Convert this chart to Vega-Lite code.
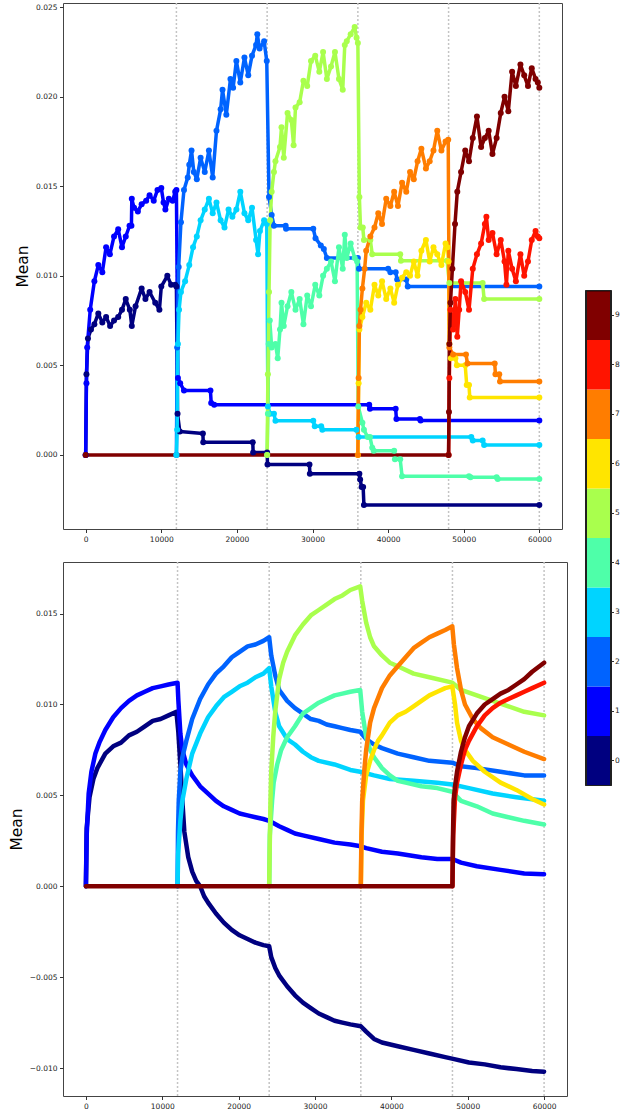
{
  "$schema": "https://vega.github.io/schema/vega-lite/v6.json",
  "padding": {"left": 8, "top": 1, "right": 0, "bottom": 0},
  "background": "white",
  "config": {
    "font": "DejaVu Sans",
    "view": {"stroke": "#444", "strokeWidth": 1},
    "axis": {"labelFont": "DejaVu Sans", "labelFontSize": 7.5, "labelColor": "#222", "tickColor": "#333", "tickSize": 3.5, "labelPadding": 2.5, "grid": false, "domain": false, "titleFont": "DejaVu Sans", "titleFontWeight": "normal", "titleFontSize": 15.5, "titleColor": "#000", "titlePadding": 5}
  },
  "datasets": {
    "vlines": [{"s": 12000}, {"s": 24000}, {"s": 36000}, {"s": 48000}, {"s": 60000}],
    "cbar": [{"c": 0}, {"c": 1}, {"c": 2}, {"c": 3}, {"c": 4}, {"c": 5}, {"c": 6}, {"c": 7}, {"c": 8}, {"c": 9}],
    "top": [
      {"c":0,"s":0,"m":0},{"c":0,"s":100,"m":0.0045},{"c":0,"s":300,"m":0.0065},{"c":0,"s":700,"m":0.007},{"c":0,"s":1150,"m":0.0073},{"c":0,"s":1670,"m":0.0079},{"c":0,"s":2200,"m":0.0074},{"c":0,"s":2700,"m":0.0077},{"c":0,"s":3230,"m":0.0072},{"c":0,"s":3750,"m":0.0075},{"c":0,"s":4300,"m":0.0077},{"c":0,"s":4800,"m":0.0081},{"c":0,"s":5300,"m":0.0087},{"c":0,"s":5840,"m":0.0081},{"c":0,"s":6100,"m":0.0072},{"c":0,"s":6600,"m":0.0083},{"c":0,"s":7400,"m":0.0093},{"c":0,"s":7900,"m":0.0087},{"c":0,"s":8450,"m":0.0091},{"c":0,"s":9200,"m":0.0085},{"c":0,"s":9750,"m":0.0081},{"c":0,"s":10000,"m":0.0094},{"c":0,"s":10800,"m":0.01},{"c":0,"s":11300,"m":0.0095},{"c":0,"s":11840,"m":0.0095},{"c":0,"s":12000,"m":0.0094},{"c":0,"s":12150,"m":0.0023},{"c":0,"s":12450,"m":0.0013},{"c":0,"s":15500,"m":0.0012},{"c":0,"s":15550,"m":0.0007},{"c":0,"s":22100,"m":0.0007},{"c":0,"s":22150,"m":0.00013},{"c":0,"s":24000,"m":0.00013},{"c":0,"s":24050,"m":-0.00054},{"c":0,"s":29600,"m":-0.00054},{"c":0,"s":29650,"m":-0.00106},{"c":0,"s":36200,"m":-0.00106},{"c":0,"s":36300,"m":-0.00137},{"c":0,"s":36500,"m":-0.0018},{"c":0,"s":36700,"m":-0.0018},{"c":0,"s":36800,"m":-0.0028},{"c":0,"s":60000,"m":-0.0028},
      {"c":1,"s":0,"m":0},{"c":1,"s":100,"m":0.004},{"c":1,"s":200,"m":0.006},{"c":1,"s":600,"m":0.0081},{"c":1,"s":1150,"m":0.0097},{"c":1,"s":1670,"m":0.0106},{"c":1,"s":2200,"m":0.0102},{"c":1,"s":2700,"m":0.0116},{"c":1,"s":3200,"m":0.0112},{"c":1,"s":3750,"m":0.0122},{"c":1,"s":4300,"m":0.0126},{"c":1,"s":4800,"m":0.0116},{"c":1,"s":5300,"m":0.0122},{"c":1,"s":5800,"m":0.0128},{"c":1,"s":6050,"m":0.0128},{"c":1,"s":6100,"m":0.0143},{"c":1,"s":6400,"m":0.0138},{"c":1,"s":6900,"m":0.0136},{"c":1,"s":7400,"m":0.014},{"c":1,"s":8000,"m":0.0142},{"c":1,"s":8450,"m":0.0145},{"c":1,"s":9000,"m":0.0142},{"c":1,"s":9500,"m":0.0148},{"c":1,"s":10000,"m":0.0149},{"c":1,"s":10300,"m":0.0141},{"c":1,"s":10540,"m":0.0137},{"c":1,"s":11000,"m":0.0143},{"c":1,"s":11500,"m":0.0142},{"c":1,"s":11840,"m":0.0147},{"c":1,"s":12000,"m":0.0148},{"c":1,"s":12200,"m":0.0043},{"c":1,"s":12500,"m":0.004},{"c":1,"s":13000,"m":0.0036},{"c":1,"s":16500,"m":0.0036},{"c":1,"s":16600,"m":0.0029},{"c":1,"s":17000,"m":0.0028},{"c":1,"s":37500,"m":0.0028},{"c":1,"s":37600,"m":0.00258},{"c":1,"s":41000,"m":0.00258},{"c":1,"s":41100,"m":0.002},{"c":1,"s":44200,"m":0.002},{"c":1,"s":44300,"m":0.00192},{"c":1,"s":60000,"m":0.00192},
      {"c":2,"s":12000,"m":0},{"c":2,"s":12100,"m":0.006},{"c":2,"s":12300,"m":0.0105},{"c":2,"s":12600,"m":0.013},{"c":2,"s":13000,"m":0.0148},{"c":2,"s":13500,"m":0.0155},{"c":2,"s":13700,"m":0.0162},{"c":2,"s":14000,"m":0.017},{"c":2,"s":14300,"m":0.0158},{"c":2,"s":14700,"m":0.0154},{"c":2,"s":15200,"m":0.0166},{"c":2,"s":15750,"m":0.0158},{"c":2,"s":16300,"m":0.017},{"c":2,"s":16800,"m":0.0155},{"c":2,"s":17300,"m":0.0181},{"c":2,"s":17850,"m":0.0193},{"c":2,"s":18100,"m":0.0204},{"c":2,"s":18600,"m":0.019},{"c":2,"s":19150,"m":0.021},{"c":2,"s":19500,"m":0.0205},{"c":2,"s":19930,"m":0.022},{"c":2,"s":20450,"m":0.0208},{"c":2,"s":21000,"m":0.0222},{"c":2,"s":21500,"m":0.0212},{"c":2,"s":22000,"m":0.0223},{"c":2,"s":22540,"m":0.0229},{"c":2,"s":22700,"m":0.0235},{"c":2,"s":23000,"m":0.0227},{"c":2,"s":23600,"m":0.0231},{"c":2,"s":23950,"m":0.022},{"c":2,"s":24250,"m":0.0144},{"c":2,"s":24600,"m":0.0134},{"c":2,"s":24900,"m":0.0128},{"c":2,"s":26450,"m":0.0128},{"c":2,"s":26500,"m":0.01263},{"c":2,"s":30100,"m":0.01263},{"c":2,"s":30400,"m":0.0121},{"c":2,"s":31100,"m":0.0117},{"c":2,"s":31500,"m":0.0115},{"c":2,"s":31900,"m":0.011},{"c":2,"s":36000,"m":0.011},{"c":2,"s":36150,"m":0.0104},{"c":2,"s":40000,"m":0.0104},{"c":2,"s":40300,"m":0.0102},{"c":2,"s":41000,"m":0.0102},{"c":2,"s":41200,"m":0.0098},{"c":2,"s":42400,"m":0.0098},{"c":2,"s":42600,"m":0.0094},{"c":2,"s":60000,"m":0.0094},
      {"c":3,"s":12000,"m":0},{"c":3,"s":12100,"m":0.0014},{"c":3,"s":12200,"m":0.0062},{"c":3,"s":12350,"m":0.0081},{"c":3,"s":12600,"m":0.0091},{"c":3,"s":13150,"m":0.0097},{"c":3,"s":13700,"m":0.0106},{"c":3,"s":14200,"m":0.0116},{"c":3,"s":14700,"m":0.0122},{"c":3,"s":15200,"m":0.0131},{"c":3,"s":15750,"m":0.0137},{"c":3,"s":16300,"m":0.0143},{"c":3,"s":16800,"m":0.0135},{"c":3,"s":17300,"m":0.0141},{"c":3,"s":17850,"m":0.0131},{"c":3,"s":18360,"m":0.0127},{"c":3,"s":18900,"m":0.0137},{"c":3,"s":19400,"m":0.0133},{"c":3,"s":19930,"m":0.0137},{"c":3,"s":20450,"m":0.0147},{"c":3,"s":21000,"m":0.0135},{"c":3,"s":21500,"m":0.0131},{"c":3,"s":22000,"m":0.0138},{"c":3,"s":22540,"m":0.012},{"c":3,"s":22800,"m":0.0112},{"c":3,"s":23050,"m":0.0125},{"c":3,"s":23600,"m":0.0131},{"c":3,"s":23950,"m":0.0129},{"c":3,"s":24100,"m":0.0027},{"c":3,"s":24400,"m":0.0023},{"c":3,"s":24900,"m":0.0023},{"c":3,"s":25100,"m":0.0019},{"c":3,"s":30100,"m":0.0019},{"c":3,"s":30300,"m":0.0016},{"c":3,"s":31150,"m":0.0016},{"c":3,"s":31300,"m":0.0014},{"c":3,"s":35800,"m":0.0014},{"c":3,"s":36100,"m":0.001},{"c":3,"s":51000,"m":0.001},{"c":3,"s":51200,"m":0.0008},{"c":3,"s":52500,"m":0.0008},{"c":3,"s":52700,"m":0.00055},{"c":3,"s":60000,"m":0.00055},
      {"c":4,"s":24000,"m":0},{"c":4,"s":24100,"m":0.0023},{"c":4,"s":24200,"m":0.0062},{"c":4,"s":24350,"m":0.0075},{"c":4,"s":24600,"m":0.006},{"c":4,"s":25100,"m":0.0062},{"c":4,"s":25400,"m":0.0054},{"c":4,"s":25700,"m":0.007},{"c":4,"s":25900,"m":0.0085},{"c":4,"s":26200,"m":0.0072},{"c":4,"s":26700,"m":0.0083},{"c":4,"s":27200,"m":0.0091},{"c":4,"s":27750,"m":0.0081},{"c":4,"s":28300,"m":0.0087},{"c":4,"s":28800,"m":0.0073},{"c":4,"s":29300,"m":0.0089},{"c":4,"s":29800,"m":0.0083},{"c":4,"s":30360,"m":0.0095},{"c":4,"s":30900,"m":0.0089},{"c":4,"s":31400,"m":0.01},{"c":4,"s":31900,"m":0.0104},{"c":4,"s":32450,"m":0.0108},{"c":4,"s":32970,"m":0.0097},{"c":4,"s":33500,"m":0.0116},{"c":4,"s":34000,"m":0.0104},{"c":4,"s":34270,"m":0.0123},{"c":4,"s":34530,"m":0.011},{"c":4,"s":35050,"m":0.0118},{"c":4,"s":35580,"m":0.011},{"c":4,"s":35900,"m":0.0108},{"c":4,"s":36050,"m":0.0027},{"c":4,"s":36600,"m":0.0018},{"c":4,"s":36800,"m":0.0014},{"c":4,"s":37300,"m":0.001},{"c":4,"s":37600,"m":0.001},{"c":4,"s":37900,"m":0.0004},{"c":4,"s":38100,"m":0.00023},{"c":4,"s":40800,"m":0.00023},{"c":4,"s":40900,"m":-0.00025},{"c":4,"s":41600,"m":-0.00025},{"c":4,"s":41850,"m":-0.0012},{"c":4,"s":50700,"m":-0.0012},{"c":4,"s":50900,"m":-0.00125},{"c":4,"s":54350,"m":-0.00125},{"c":4,"s":54500,"m":-0.00135},{"c":4,"s":60000,"m":-0.00135},
      {"c":5,"s":24000,"m":0},{"c":5,"s":24100,"m":0.0045},{"c":5,"s":24250,"m":0.0091},{"c":5,"s":24400,"m":0.0131},{"c":5,"s":24600,"m":0.0147},{"c":5,"s":24900,"m":0.0158},{"c":5,"s":25100,"m":0.0164},{"c":5,"s":25700,"m":0.0172},{"c":5,"s":25900,"m":0.0183},{"c":5,"s":26200,"m":0.0166},{"c":5,"s":26700,"m":0.0191},{"c":5,"s":27200,"m":0.0187},{"c":5,"s":27500,"m":0.0173},{"c":5,"s":27750,"m":0.0194},{"c":5,"s":28300,"m":0.0197},{"c":5,"s":28800,"m":0.0209},{"c":5,"s":29300,"m":0.0206},{"c":5,"s":29800,"m":0.022},{"c":5,"s":30360,"m":0.0223},{"c":5,"s":30900,"m":0.0214},{"c":5,"s":31400,"m":0.0225},{"c":5,"s":31900,"m":0.021},{"c":5,"s":32450,"m":0.0217},{"c":5,"s":32970,"m":0.0225},{"c":5,"s":33500,"m":0.021},{"c":5,"s":34000,"m":0.0204},{"c":5,"s":34270,"m":0.0229},{"c":5,"s":34530,"m":0.0231},{"c":5,"s":35050,"m":0.0235},{"c":5,"s":35580,"m":0.0239},{"c":5,"s":35830,"m":0.0233},{"c":5,"s":36000,"m":0.023},{"c":5,"s":36200,"m":0.0144},{"c":5,"s":36350,"m":0.0127},{"c":5,"s":36650,"m":0.0127},{"c":5,"s":36800,"m":0.012},{"c":5,"s":37650,"m":0.012},{"c":5,"s":37900,"m":0.0112},{"c":5,"s":41600,"m":0.0112},{"c":5,"s":41700,"m":0.01085},{"c":5,"s":47800,"m":0.01085},{"c":5,"s":48100,"m":0.0096},{"c":5,"s":52500,"m":0.0096},{"c":5,"s":52700,"m":0.0087},{"c":5,"s":60000,"m":0.0087},
      {"c":6,"s":36000,"m":0},{"c":6,"s":36100,"m":0.004},{"c":6,"s":36200,"m":0.007},{"c":6,"s":36600,"m":0.0077},{"c":6,"s":37100,"m":0.0085},{"c":6,"s":37650,"m":0.0081},{"c":6,"s":38200,"m":0.0095},{"c":6,"s":38700,"m":0.0089},{"c":6,"s":39200,"m":0.0097},{"c":6,"s":39750,"m":0.0087},{"c":6,"s":40300,"m":0.0093},{"c":6,"s":40800,"m":0.0085},{"c":6,"s":41300,"m":0.0095},{"c":6,"s":41850,"m":0.0099},{"c":6,"s":42400,"m":0.0102},{"c":6,"s":42900,"m":0.01},{"c":6,"s":43400,"m":0.0108},{"c":6,"s":43900,"m":0.01},{"c":6,"s":44400,"m":0.0114},{"c":6,"s":45000,"m":0.012},{"c":6,"s":45500,"m":0.0108},{"c":6,"s":46000,"m":0.0116},{"c":6,"s":46500,"m":0.0112},{"c":6,"s":47050,"m":0.0106},{"c":6,"s":47600,"m":0.0118},{"c":6,"s":47850,"m":0.0116},{"c":6,"s":48000,"m":0.0108},{"c":6,"s":48100,"m":0.0062},{"c":6,"s":48300,"m":0.0054},{"c":6,"s":48900,"m":0.0054},{"c":6,"s":49100,"m":0.005},{"c":6,"s":50200,"m":0.005},{"c":6,"s":50400,"m":0.0039},{"c":6,"s":50700,"m":0.0039},{"c":6,"s":50800,"m":0.0032},{"c":6,"s":60000,"m":0.0032},
      {"c":7,"s":36000,"m":0},{"c":7,"s":36100,"m":0.0043},{"c":7,"s":36200,"m":0.0072},{"c":7,"s":36350,"m":0.0081},{"c":7,"s":36600,"m":0.0093},{"c":7,"s":36900,"m":0.0104},{"c":7,"s":37100,"m":0.0114},{"c":7,"s":37650,"m":0.0122},{"c":7,"s":38200,"m":0.0127},{"c":7,"s":38700,"m":0.0135},{"c":7,"s":39200,"m":0.0129},{"c":7,"s":39750,"m":0.0143},{"c":7,"s":40300,"m":0.0139},{"c":7,"s":40800,"m":0.0147},{"c":7,"s":41300,"m":0.0139},{"c":7,"s":41850,"m":0.0152},{"c":7,"s":42400,"m":0.0147},{"c":7,"s":42900,"m":0.0158},{"c":7,"s":43400,"m":0.0154},{"c":7,"s":43900,"m":0.0164},{"c":7,"s":44400,"m":0.0171},{"c":7,"s":45000,"m":0.016},{"c":7,"s":45500,"m":0.0164},{"c":7,"s":46000,"m":0.017},{"c":7,"s":46500,"m":0.0181},{"c":7,"s":47050,"m":0.017},{"c":7,"s":47600,"m":0.0175},{"c":7,"s":47950,"m":0.0176},{"c":7,"s":48100,"m":0.006},{"c":7,"s":48600,"m":0.0056},{"c":7,"s":50300,"m":0.0056},{"c":7,"s":50500,"m":0.0051},{"c":7,"s":54100,"m":0.0051},{"c":7,"s":54200,"m":0.0045},{"c":7,"s":54700,"m":0.0045},{"c":7,"s":54800,"m":0.0041},{"c":7,"s":60000,"m":0.0041},
      {"c":8,"s":48000,"m":0},{"c":8,"s":48100,"m":0.0043},{"c":8,"s":48250,"m":0.0081},{"c":8,"s":48600,"m":0.007},{"c":8,"s":48900,"m":0.0087},{"c":8,"s":49150,"m":0.0066},{"c":8,"s":49400,"m":0.0081},{"c":8,"s":49650,"m":0.0097},{"c":8,"s":50200,"m":0.0091},{"c":8,"s":50700,"m":0.0081},{"c":8,"s":51200,"m":0.0104},{"c":8,"s":51750,"m":0.0112},{"c":8,"s":52300,"m":0.0118},{"c":8,"s":52800,"m":0.0129},{"c":8,"s":53000,"m":0.0133},{"c":8,"s":53300,"m":0.012},{"c":8,"s":53800,"m":0.0124},{"c":8,"s":54350,"m":0.0112},{"c":8,"s":54900,"m":0.012},{"c":8,"s":55400,"m":0.0108},{"c":8,"s":55650,"m":0.0095},{"c":8,"s":55900,"m":0.0114},{"c":8,"s":56400,"m":0.0104},{"c":8,"s":56900,"m":0.0097},{"c":8,"s":57500,"m":0.0112},{"c":8,"s":58000,"m":0.01},{"c":8,"s":58500,"m":0.0108},{"c":8,"s":59000,"m":0.012},{"c":8,"s":59500,"m":0.0125},{"c":8,"s":59800,"m":0.0122},{"c":8,"s":60000,"m":0.0121},
      {"c":9,"s":0,"m":0},{"c":9,"s":48000,"m":0},{"c":9,"s":48050,"m":0.0024},{"c":9,"s":48100,"m":0.0062},{"c":9,"s":48250,"m":0.0085},{"c":9,"s":48500,"m":0.0104},{"c":9,"s":48850,"m":0.0129},{"c":9,"s":49150,"m":0.0147},{"c":9,"s":49650,"m":0.0158},{"c":9,"s":50200,"m":0.017},{"c":9,"s":50700,"m":0.0164},{"c":9,"s":51200,"m":0.0177},{"c":9,"s":51750,"m":0.0189},{"c":9,"s":52300,"m":0.0172},{"c":9,"s":52800,"m":0.0177},{"c":9,"s":53300,"m":0.0181},{"c":9,"s":53800,"m":0.0168},{"c":9,"s":54350,"m":0.0177},{"c":9,"s":54900,"m":0.0191},{"c":9,"s":55400,"m":0.02},{"c":9,"s":55900,"m":0.0192},{"c":9,"s":56400,"m":0.0214},{"c":9,"s":56900,"m":0.0206},{"c":9,"s":57500,"m":0.0218},{"c":9,"s":58000,"m":0.0212},{"c":9,"s":58500,"m":0.0206},{"c":9,"s":59000,"m":0.0216},{"c":9,"s":59500,"m":0.021},{"c":9,"s":59800,"m":0.0208},{"c":9,"s":60000,"m":0.0205}
    ],
    "bottom": [
      {"c":0,"s":0,"m":0},{"c":0,"s":100,"m":0.0032},{"c":0,"s":470,"m":0.0049},{"c":0,"s":980,"m":0.0059},{"c":0,"s":1500,"m":0.0065},{"c":0,"s":2540,"m":0.0073},{"c":0,"s":3570,"m":0.0077},{"c":0,"s":4600,"m":0.0079},{"c":0,"s":5640,"m":0.0083},{"c":0,"s":6680,"m":0.0085},{"c":0,"s":7710,"m":0.0088},{"c":0,"s":8750,"m":0.0091},{"c":0,"s":9780,"m":0.0092},{"c":0,"s":10820,"m":0.0094},{"c":0,"s":11850,"m":0.0096},{"c":0,"s":12100,"m":0.0085},{"c":0,"s":12370,"m":0.0067},{"c":0,"s":12630,"m":0.0047},{"c":0,"s":12890,"m":0.003},{"c":0,"s":13400,"m":0.0016},{"c":0,"s":13920,"m":0.0008},{"c":0,"s":14440,"m":0.0003},{"c":0,"s":14960,"m":0},{"c":0,"s":15480,"m":-0.00055},{"c":0,"s":16000,"m":-0.0009},{"c":0,"s":17030,"m":-0.0015},{"c":0,"s":18060,"m":-0.002},{"c":0,"s":19100,"m":-0.0024},{"c":0,"s":20130,"m":-0.0027},{"c":0,"s":21170,"m":-0.0029},{"c":0,"s":22200,"m":-0.0031},{"c":0,"s":23240,"m":-0.00324},{"c":0,"s":24000,"m":-0.0033},{"c":0,"s":24270,"m":-0.0039},{"c":0,"s":24800,"m":-0.0045},{"c":0,"s":25300,"m":-0.0049},{"c":0,"s":26350,"m":-0.0055},{"c":0,"s":27380,"m":-0.006},{"c":0,"s":28420,"m":-0.0064},{"c":0,"s":29450,"m":-0.0067},{"c":0,"s":30490,"m":-0.007},{"c":0,"s":31520,"m":-0.0072},{"c":0,"s":32560,"m":-0.0074},{"c":0,"s":33590,"m":-0.0075},{"c":0,"s":34630,"m":-0.0076},{"c":0,"s":36000,"m":-0.0077},{"c":0,"s":36700,"m":-0.008},{"c":0,"s":37730,"m":-0.0084},{"c":0,"s":38770,"m":-0.0086},{"c":0,"s":40840,"m":-0.0088},{"c":0,"s":42910,"m":-0.009},{"c":0,"s":44980,"m":-0.0092},{"c":0,"s":47050,"m":-0.0094},{"c":0,"s":48090,"m":-0.0095},{"c":0,"s":50160,"m":-0.0097},{"c":0,"s":52230,"m":-0.0098},{"c":0,"s":54300,"m":-0.00996},{"c":0,"s":56370,"m":-0.01006},{"c":0,"s":58440,"m":-0.01016},{"c":0,"s":60000,"m":-0.0102},
      {"c":1,"s":0,"m":0},{"c":1,"s":100,"m":0.0028},{"c":1,"s":360,"m":0.0051},{"c":1,"s":720,"m":0.0063},{"c":1,"s":1240,"m":0.0073},{"c":1,"s":1760,"m":0.0079},{"c":1,"s":2540,"m":0.0086},{"c":1,"s":3570,"m":0.0093},{"c":1,"s":4600,"m":0.0098},{"c":1,"s":5640,"m":0.0102},{"c":1,"s":6680,"m":0.0105},{"c":1,"s":7710,"m":0.0107},{"c":1,"s":8750,"m":0.0109},{"c":1,"s":9780,"m":0.011},{"c":1,"s":10820,"m":0.0111},{"c":1,"s":12000,"m":0.0112},{"c":1,"s":12110,"m":0.0102},{"c":1,"s":12370,"m":0.0084},{"c":1,"s":12630,"m":0.0075},{"c":1,"s":13150,"m":0.0067},{"c":1,"s":13920,"m":0.0061},{"c":1,"s":14960,"m":0.0055},{"c":1,"s":16000,"m":0.0051},{"c":1,"s":17030,"m":0.0047},{"c":1,"s":18060,"m":0.0044},{"c":1,"s":19100,"m":0.0042},{"c":1,"s":20130,"m":0.004},{"c":1,"s":21170,"m":0.0039},{"c":1,"s":22200,"m":0.0038},{"c":1,"s":23240,"m":0.0037},{"c":1,"s":24000,"m":0.0036},{"c":1,"s":25310,"m":0.0033},{"c":1,"s":26350,"m":0.0031},{"c":1,"s":27380,"m":0.0029},{"c":1,"s":28420,"m":0.0028},{"c":1,"s":30490,"m":0.0026},{"c":1,"s":32560,"m":0.0024},{"c":1,"s":34630,"m":0.0023},{"c":1,"s":36000,"m":0.0022},{"c":1,"s":36700,"m":0.0021},{"c":1,"s":38770,"m":0.0019},{"c":1,"s":40840,"m":0.0018},{"c":1,"s":43940,"m":0.0016},{"c":1,"s":46010,"m":0.0015},{"c":1,"s":48000,"m":0.0015},{"c":1,"s":49120,"m":0.0013},{"c":1,"s":51190,"m":0.0011},{"c":1,"s":54300,"m":0.0009},{"c":1,"s":57400,"m":0.0007},{"c":1,"s":60000,"m":0.00066},
      {"c":2,"s":12000,"m":0},{"c":2,"s":12060,"m":0.003},{"c":2,"s":12160,"m":0.0047},{"c":2,"s":12370,"m":0.0063},{"c":2,"s":12630,"m":0.0071},{"c":2,"s":13150,"m":0.008},{"c":2,"s":13920,"m":0.0092},{"c":2,"s":14960,"m":0.0103},{"c":2,"s":16000,"m":0.0111},{"c":2,"s":17030,"m":0.0117},{"c":2,"s":18060,"m":0.0121},{"c":2,"s":19100,"m":0.0126},{"c":2,"s":20130,"m":0.0129},{"c":2,"s":21170,"m":0.0132},{"c":2,"s":22200,"m":0.0133},{"c":2,"s":23240,"m":0.0135},{"c":2,"s":24000,"m":0.0137},{"c":2,"s":24270,"m":0.0127},{"c":2,"s":24790,"m":0.0116},{"c":2,"s":25310,"m":0.0108},{"c":2,"s":26350,"m":0.0102},{"c":2,"s":27380,"m":0.0098},{"c":2,"s":28420,"m":0.0095},{"c":2,"s":29450,"m":0.0092},{"c":2,"s":30490,"m":0.0091},{"c":2,"s":31520,"m":0.0089},{"c":2,"s":32560,"m":0.0088},{"c":2,"s":33590,"m":0.0087},{"c":2,"s":34630,"m":0.0086},{"c":2,"s":35920,"m":0.0085},{"c":2,"s":36700,"m":0.0081},{"c":2,"s":37730,"m":0.0078},{"c":2,"s":38770,"m":0.0076},{"c":2,"s":40840,"m":0.0073},{"c":2,"s":42910,"m":0.0071},{"c":2,"s":44980,"m":0.0069},{"c":2,"s":47980,"m":0.0068},{"c":2,"s":49120,"m":0.0066},{"c":2,"s":51190,"m":0.0065},{"c":2,"s":54300,"m":0.0063},{"c":2,"s":57400,"m":0.0061},{"c":2,"s":60000,"m":0.0061},
      {"c":3,"s":12000,"m":0},{"c":3,"s":12080,"m":0.0018},{"c":3,"s":12370,"m":0.0036},{"c":3,"s":12630,"m":0.0047},{"c":3,"s":13150,"m":0.0059},{"c":3,"s":13920,"m":0.0073},{"c":3,"s":14960,"m":0.0084},{"c":3,"s":16000,"m":0.0093},{"c":3,"s":17030,"m":0.0099},{"c":3,"s":18060,"m":0.0104},{"c":3,"s":19100,"m":0.0107},{"c":3,"s":20130,"m":0.011},{"c":3,"s":21170,"m":0.0112},{"c":3,"s":22200,"m":0.0115},{"c":3,"s":23240,"m":0.0117},{"c":3,"s":24000,"m":0.012},{"c":3,"s":24270,"m":0.011},{"c":3,"s":24790,"m":0.0096},{"c":3,"s":25310,"m":0.0088},{"c":3,"s":26350,"m":0.0081},{"c":3,"s":27380,"m":0.0078},{"c":3,"s":28420,"m":0.0074},{"c":3,"s":29450,"m":0.0071},{"c":3,"s":30490,"m":0.0069},{"c":3,"s":32560,"m":0.0067},{"c":3,"s":34630,"m":0.0064},{"c":3,"s":35920,"m":0.0063},{"c":3,"s":37730,"m":0.0061},{"c":3,"s":39800,"m":0.0059},{"c":3,"s":42910,"m":0.0058},{"c":3,"s":46010,"m":0.0057},{"c":3,"s":47980,"m":0.0056},{"c":3,"s":50160,"m":0.0054},{"c":3,"s":53260,"m":0.0051},{"c":3,"s":56370,"m":0.0049},{"c":3,"s":60000,"m":0.0047},
      {"c":4,"s":24000,"m":0},{"c":4,"s":24080,"m":0.0028},{"c":4,"s":24380,"m":0.0047},{"c":4,"s":24590,"m":0.0057},{"c":4,"s":25050,"m":0.0067},{"c":4,"s":25570,"m":0.0075},{"c":4,"s":26350,"m":0.0082},{"c":4,"s":27380,"m":0.0088},{"c":4,"s":28420,"m":0.0095},{"c":4,"s":29450,"m":0.0098},{"c":4,"s":30490,"m":0.0101},{"c":4,"s":31520,"m":0.0103},{"c":4,"s":32560,"m":0.0105},{"c":4,"s":33590,"m":0.0106},{"c":4,"s":34630,"m":0.0107},{"c":4,"s":35920,"m":0.0108},{"c":4,"s":36180,"m":0.0096},{"c":4,"s":36700,"m":0.0082},{"c":4,"s":37220,"m":0.0075},{"c":4,"s":37730,"m":0.0071},{"c":4,"s":38770,"m":0.0065},{"c":4,"s":39800,"m":0.0061},{"c":4,"s":40840,"m":0.0058},{"c":4,"s":41870,"m":0.0057},{"c":4,"s":43940,"m":0.0055},{"c":4,"s":46010,"m":0.0054},{"c":4,"s":47980,"m":0.0052},{"c":4,"s":49120,"m":0.0047},{"c":4,"s":51190,"m":0.0044},{"c":4,"s":53260,"m":0.004},{"c":4,"s":55330,"m":0.0038},{"c":4,"s":57400,"m":0.0036},{"c":4,"s":60000,"m":0.0034},
      {"c":5,"s":24000,"m":0},{"c":5,"s":24050,"m":0.0016},{"c":5,"s":24170,"m":0.0047},{"c":5,"s":24270,"m":0.0063},{"c":5,"s":24530,"m":0.0082},{"c":5,"s":24790,"m":0.0096},{"c":5,"s":25310,"m":0.0114},{"c":5,"s":25830,"m":0.0123},{"c":5,"s":26350,"m":0.0129},{"c":5,"s":27380,"m":0.0138},{"c":5,"s":28420,"m":0.0144},{"c":5,"s":29450,"m":0.0149},{"c":5,"s":30490,"m":0.0152},{"c":5,"s":31520,"m":0.0155},{"c":5,"s":32560,"m":0.0158},{"c":5,"s":33590,"m":0.016},{"c":5,"s":34630,"m":0.0163},{"c":5,"s":35920,"m":0.0165},{"c":5,"s":36180,"m":0.0157},{"c":5,"s":36700,"m":0.0145},{"c":5,"s":37220,"m":0.0137},{"c":5,"s":37730,"m":0.0132},{"c":5,"s":38770,"m":0.0127},{"c":5,"s":39800,"m":0.0123},{"c":5,"s":40840,"m":0.0121},{"c":5,"s":42910,"m":0.0117},{"c":5,"s":44980,"m":0.0115},{"c":5,"s":47980,"m":0.0112},{"c":5,"s":49120,"m":0.0108},{"c":5,"s":51190,"m":0.0105},{"c":5,"s":53260,"m":0.0102},{"c":5,"s":55330,"m":0.0099},{"c":5,"s":57400,"m":0.0096},{"c":5,"s":60000,"m":0.0094},
      {"c":6,"s":36000,"m":0},{"c":6,"s":36100,"m":0.0028},{"c":6,"s":36280,"m":0.0047},{"c":6,"s":36700,"m":0.0061},{"c":6,"s":37220,"m":0.0069},{"c":6,"s":37730,"m":0.0075},{"c":6,"s":38250,"m":0.008},{"c":6,"s":38770,"m":0.0083},{"c":6,"s":39800,"m":0.009},{"c":6,"s":40840,"m":0.0094},{"c":6,"s":41870,"m":0.0096},{"c":6,"s":42910,"m":0.0099},{"c":6,"s":43940,"m":0.0102},{"c":6,"s":44980,"m":0.0105},{"c":6,"s":46010,"m":0.0107},{"c":6,"s":47050,"m":0.0109},{"c":6,"s":47980,"m":0.011},{"c":6,"s":48340,"m":0.01},{"c":6,"s":48600,"m":0.009},{"c":6,"s":49120,"m":0.008},{"c":6,"s":49640,"m":0.0075},{"c":6,"s":50670,"m":0.0069},{"c":6,"s":52230,"m":0.0063},{"c":6,"s":54300,"m":0.0057},{"c":6,"s":56370,"m":0.0053},{"c":6,"s":58440,"m":0.0048},{"c":6,"s":60000,"m":0.0045},
      {"c":7,"s":36000,"m":0},{"c":7,"s":36080,"m":0.0028},{"c":7,"s":36180,"m":0.0047},{"c":7,"s":36440,"m":0.0063},{"c":7,"s":36700,"m":0.0075},{"c":7,"s":37220,"m":0.009},{"c":7,"s":37730,"m":0.0098},{"c":7,"s":38770,"m":0.0109},{"c":7,"s":39800,"m":0.0116},{"c":7,"s":40840,"m":0.0121},{"c":7,"s":41870,"m":0.0126},{"c":7,"s":42910,"m":0.0131},{"c":7,"s":43940,"m":0.0134},{"c":7,"s":44980,"m":0.0137},{"c":7,"s":46010,"m":0.0139},{"c":7,"s":47050,"m":0.0141},{"c":7,"s":47980,"m":0.0143},{"c":7,"s":48190,"m":0.0133},{"c":7,"s":48600,"m":0.012},{"c":7,"s":49120,"m":0.0108},{"c":7,"s":49640,"m":0.01},{"c":7,"s":50670,"m":0.0092},{"c":7,"s":51710,"m":0.0087},{"c":7,"s":53260,"m":0.0082},{"c":7,"s":55330,"m":0.0078},{"c":7,"s":57400,"m":0.0074},{"c":7,"s":60000,"m":0.007},
      {"c":8,"s":48000,"m":0},{"c":8,"s":48100,"m":0.0028},{"c":8,"s":48340,"m":0.0049},{"c":8,"s":48600,"m":0.0057},{"c":8,"s":49120,"m":0.0067},{"c":8,"s":49640,"m":0.0075},{"c":8,"s":50160,"m":0.008},{"c":8,"s":51190,"m":0.0088},{"c":8,"s":52230,"m":0.0094},{"c":8,"s":53260,"m":0.0098},{"c":8,"s":54300,"m":0.0101},{"c":8,"s":55330,"m":0.0103},{"c":8,"s":56370,"m":0.0105},{"c":8,"s":57400,"m":0.0107},{"c":8,"s":58440,"m":0.0109},{"c":8,"s":60000,"m":0.0112},
      {"c":9,"s":0,"m":0},{"c":9,"s":48000,"m":0},{"c":9,"s":48060,"m":0.0025},{"c":9,"s":48150,"m":0.0047},{"c":9,"s":48340,"m":0.0055},{"c":9,"s":48600,"m":0.0063},{"c":9,"s":49120,"m":0.0074},{"c":9,"s":49640,"m":0.0082},{"c":9,"s":50160,"m":0.0088},{"c":9,"s":51190,"m":0.0095},{"c":9,"s":52230,"m":0.01},{"c":9,"s":53260,"m":0.0103},{"c":9,"s":54300,"m":0.0106},{"c":9,"s":55330,"m":0.0108},{"c":9,"s":56370,"m":0.0111},{"c":9,"s":57400,"m":0.0114},{"c":9,"s":58440,"m":0.0118},{"c":9,"s":60000,"m":0.0123}
    ]
  },
  "hconcat": [
    {
      "spacing": 17,
      "vconcat": [
        {
          "width": 499,
          "height": 526,
          "layer": [
            {
              "data": {"name": "vlines"},
              "mark": {"type": "rule", "color": "#c4c4c4", "strokeDash": [2, 2], "strokeWidth": 1.5},
              "encoding": {"x": {"field": "s", "type": "quantitative", "scale": {"domain": [-3000, 63000], "nice": false, "zero": false}, "axis": {"values": [0, 10000, 20000, 30000, 40000, 50000, 60000], "format": "d", "title": null}}}
            },
            {
              "data": {"name": "top"},
              "mark": {"type": "line", "strokeWidth": 3.5, "strokeJoin": "round", "point": {"filled": true, "size": 36, "opacity": 1}},
              "encoding": {
                "x": {"field": "s", "type": "quantitative", "scale": {"domain": [-3000, 63000], "nice": false, "zero": false}, "axis": {"values": [0, 10000, 20000, 30000, 40000, 50000, 60000], "format": "d", "title": null}},
                "y": {"field": "m", "type": "quantitative", "scale": {"domain": [-0.00414, 0.02524], "nice": false, "zero": false}, "axis": {"values": [0, 0.005, 0.01, 0.015, 0.02, 0.025], "format": ".3f", "title": "Mean"}},
                "color": {"field": "c", "type": "nominal", "scale": {"domain": [0,1,2,3,4,5,6,7,8,9], "range": ["#000080","#0000ff","#0063ff","#00d4ff","#4effa9","#a9ff4d","#ffe500","#ff7d00","#ff1400","#800000"]}, "legend": null}
              }
            }
          ]
        },
        {
          "width": 504,
          "height": 534,
          "layer": [
            {
              "data": {"name": "vlines"},
              "mark": {"type": "rule", "color": "#c4c4c4", "strokeDash": [2, 2], "strokeWidth": 1.5},
              "encoding": {"x": {"field": "s", "type": "quantitative", "scale": {"domain": [-3000, 63000], "nice": false, "zero": false}, "axis": {"values": [0, 10000, 20000, 30000, 40000, 50000, 60000], "format": "d", "title": null}}}
            },
            {
              "data": {"name": "bottom"},
              "mark": {"type": "line", "strokeWidth": 4.5, "strokeJoin": "round", "strokeCap": "round"},
              "encoding": {
                "x": {"field": "s", "type": "quantitative", "scale": {"domain": [-3000, 63000], "nice": false, "zero": false}, "axis": {"values": [0, 10000, 20000, 30000, 40000, 50000, 60000], "format": "d", "title": null}},
                "y": {"field": "m", "type": "quantitative", "scale": {"domain": [-0.01154, 0.01784], "nice": false, "zero": false}, "axis": {"values": [-0.01, -0.005, 0, 0.005, 0.01, 0.015], "format": ".3f", "title": "Mean"}},
                "color": {"field": "c", "type": "nominal", "scale": {"domain": [0,1,2,3,4,5,6,7,8,9], "range": ["#000080","#0000ff","#0063ff","#00d4ff","#4effa9","#a9ff4d","#ffe500","#ff7d00","#ff1400","#800000"]}, "legend": null}
              }
            }
          ]
        }
      ]
    },
    {
      "width": 25,
      "height": 782,
      "view": {"stroke": null},
      "data": {"name": "cbar"},
      "layer": [
        {
          "mark": {"type": "rect"},
          "encoding": {
            "y": {"field": "c", "type": "quantitative", "bin": {"extent": [-0.5, 9.5], "step": 1, "nice": false}, "scale": {"domain": [-0.5, 15.3], "nice": false, "zero": false}, "axis": {"orient": "right", "values": [0,1,2,3,4,5,6,7,8,9], "format": "d", "title": null, "tickSize": 2.5, "labelPadding": 1}},
            "color": {"field": "c", "type": "nominal", "scale": {"domain": [0,1,2,3,4,5,6,7,8,9], "range": ["#000080","#0000ff","#0063ff","#00d4ff","#4effa9","#a9ff4d","#ffe500","#ff7d00","#ff1400","#800000"]}, "legend": null}
          }
        },
        {
          "mark": {"type": "rect", "filled": false, "stroke": "#222", "strokeWidth": 0.8},
          "encoding": {
            "y": {"field": "c", "type": "quantitative", "bin": {"extent": [-0.5, 9.5], "step": 10, "nice": false}}
          }
        }
      ]
    }
  ],
  "spacing": 17
}
